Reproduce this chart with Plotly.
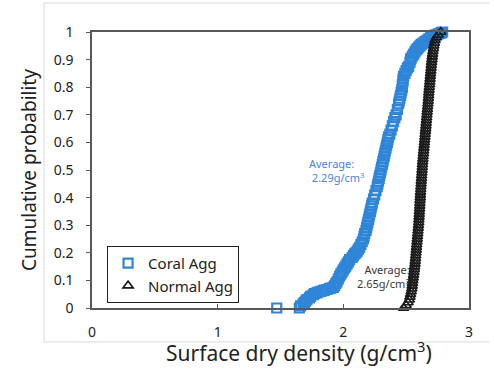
import plotly.graph_objects as go

# Coral aggregate: surface dry density (g/cm3) and cumulative probability
coral_x = [1.47, 1.65, 1.66, 1.68, 1.69, 1.70, 1.71, 1.73, 1.74, 1.76, 1.77, 1.79, 1.80, 1.82,
           1.84, 1.85, 1.87, 1.89, 1.90, 1.92, 1.93, 1.94, 1.95, 1.96, 1.97, 1.98, 1.99, 2.00,
           2.01, 2.02, 2.03, 2.04, 2.05, 2.07, 2.08, 2.09, 2.10, 2.11, 2.12, 2.13, 2.14, 2.15,
           2.16, 2.165, 2.17, 2.18, 2.185, 2.19, 2.195, 2.20, 2.205, 2.21, 2.215, 2.22, 2.225,
           2.23, 2.24, 2.25, 2.26, 2.27, 2.275, 2.28, 2.285, 2.29, 2.295, 2.30, 2.305, 2.31,
           2.315, 2.32, 2.325, 2.33, 2.335, 2.34, 2.345, 2.35, 2.355, 2.36, 2.37, 2.38, 2.39,
           2.40, 2.41, 2.42, 2.43, 2.44, 2.445, 2.45, 2.455, 2.46, 2.465, 2.47, 2.47, 2.475,
           2.475, 2.48, 2.49, 2.50, 2.51, 2.52, 2.53, 2.535, 2.54, 2.55, 2.56, 2.57, 2.58, 2.59,
           2.60, 2.61, 2.62, 2.635, 2.65, 2.665, 2.68, 2.695, 2.71, 2.725, 2.74, 2.755, 2.77,
           2.78, 2.79]
coral_y = [0.0, 0.0, 0.008, 0.015, 0.02, 0.025, 0.03, 0.037, 0.042, 0.048, 0.052, 0.055, 0.058,
           0.06, 0.063, 0.065, 0.067, 0.07, 0.072, 0.075, 0.08, 0.088, 0.095, 0.105, 0.115, 0.123,
           0.13, 0.138, 0.145, 0.152, 0.16, 0.167, 0.175, 0.183, 0.19, 0.196, 0.2, 0.206, 0.213,
           0.22, 0.23, 0.24, 0.25, 0.26, 0.27, 0.28, 0.29, 0.30, 0.31, 0.32, 0.33, 0.34, 0.35,
           0.36, 0.37, 0.38, 0.395, 0.41, 0.425, 0.44, 0.45, 0.46, 0.47, 0.48, 0.49, 0.50, 0.51,
           0.52, 0.53, 0.54, 0.55, 0.56, 0.57, 0.58, 0.59, 0.60, 0.61, 0.62, 0.63, 0.645, 0.66,
           0.675, 0.69, 0.70, 0.72, 0.74, 0.75, 0.76, 0.77, 0.78, 0.79, 0.80, 0.81, 0.82, 0.83,
           0.84, 0.85, 0.86, 0.87, 0.875, 0.89, 0.90, 0.905, 0.913, 0.92, 0.928, 0.935, 0.94,
           0.945, 0.95, 0.955, 0.96, 0.965, 0.97, 0.975, 0.98, 0.985, 0.988, 0.99, 0.993, 0.995,
           0.998, 1.0]

# Normal aggregate
normal_x = [2.48, 2.50, 2.515, 2.525, 2.53, 2.535, 2.54, 2.545, 2.548, 2.55, 2.553, 2.556,
            2.559, 2.562, 2.565, 2.567, 2.57, 2.572, 2.574, 2.576, 2.578, 2.58, 2.582, 2.584,
            2.586, 2.588, 2.59, 2.592, 2.594, 2.596, 2.598, 2.60, 2.601, 2.603, 2.604, 2.605,
            2.607, 2.608, 2.609, 2.61, 2.612, 2.613, 2.614, 2.616, 2.617, 2.619, 2.62, 2.622,
            2.623, 2.625, 2.626, 2.628, 2.629, 2.631, 2.633, 2.635, 2.637, 2.639, 2.641, 2.643,
            2.645, 2.647, 2.649, 2.651, 2.653, 2.655, 2.657, 2.659, 2.661, 2.663, 2.665, 2.667,
            2.669, 2.671, 2.673, 2.675, 2.677, 2.679, 2.68, 2.682, 2.684, 2.686, 2.688, 2.69,
            2.692, 2.694, 2.696, 2.698, 2.70, 2.702, 2.705, 2.707, 2.71, 2.713, 2.717, 2.72,
            2.725, 2.73, 2.74, 2.755, 2.775]
normal_y = [0.0, 0.01, 0.02, 0.03, 0.04, 0.05, 0.06, 0.07, 0.08, 0.09, 0.10, 0.11, 0.12, 0.13,
            0.14, 0.15, 0.16, 0.17, 0.18, 0.19, 0.20, 0.21, 0.22, 0.23, 0.24, 0.25, 0.26, 0.27,
            0.28, 0.29, 0.30, 0.31, 0.32, 0.33, 0.34, 0.35, 0.36, 0.37, 0.38, 0.39, 0.40, 0.41,
            0.42, 0.43, 0.44, 0.45, 0.46, 0.47, 0.48, 0.49, 0.50, 0.51, 0.52, 0.53, 0.54, 0.55,
            0.56, 0.57, 0.58, 0.59, 0.60, 0.61, 0.62, 0.63, 0.64, 0.65, 0.66, 0.67, 0.68, 0.69,
            0.70, 0.71, 0.72, 0.73, 0.74, 0.75, 0.76, 0.77, 0.78, 0.79, 0.80, 0.81, 0.82, 0.83,
            0.84, 0.85, 0.86, 0.87, 0.88, 0.89, 0.90, 0.91, 0.92, 0.93, 0.94, 0.95, 0.96, 0.97,
            0.98, 0.99, 1.0]

x_ticks = [0, 1, 2, 3]
y_ticks = [0, 0.1, 0.2, 0.3, 0.4, 0.5, 0.6, 0.7, 0.8, 0.9, 1]
y_tick_text = ["0", "0.1", "0.2", "0.3", "0.4", "0.5", "0.6", "0.7", "0.8", "0.9", "1"]

BLUE = "#2f86d8"
FONT = "Noto Sans"

fig = go.Figure()
fig.add_trace(go.Scatter(
    x=coral_x, y=coral_y, mode="markers", name="Coral Agg",
    marker=dict(symbol="square-open", size=9, color=BLUE, line=dict(width=2.2, color=BLUE)),
    cliponaxis=False,
))
fig.add_trace(go.Scatter(
    x=normal_x, y=normal_y, mode="markers", name="Normal Agg",
    marker=dict(symbol="triangle-up-open", size=9, color="#1a1a1a", line=dict(width=1.6, color="#1a1a1a")),
    cliponaxis=False,
))

fig.add_annotation(x=1.71, y=0.5, xref="x", yref="y", xanchor="left", showarrow=False,
                   text="Average:<br> 2.29g/cm<sup>3</sup>", align="left",
                   font=dict(family=FONT, size=11, color="#4a86d8"))
fig.add_annotation(x=2.55, y=0.115, xref="x", yref="y", xanchor="right", showarrow=False,
                   text="Average:<br>2.65g/cm<sup>3</sup>", align="right",
                   font=dict(family=FONT, size=11, color="#383838"))

# x-axis title (placed slightly right of centre, as in the source)
fig.add_annotation(x=0.549, y=-0.159, xref="paper", yref="paper", xanchor="center", yanchor="middle",
                   showarrow=False, text="Surface dry density (g/cm<sup>3</sup>)",
                   font=dict(family=FONT, size=21, color="#222222"))

# light outer chart frame
frame = dict(type="line", xref="paper", yref="paper", line=dict(color="#d9d9d9", width=1))
fig.add_shape(**frame, x0=-0.1273, x1=-0.1273, y0=-0.123, y1=1.105)
fig.add_shape(**frame, x0=-0.1273, x1=1.053, y0=-0.123, y1=-0.123)
fig.add_shape(**frame, x0=-0.1273, x1=1.053, y0=1.105, y1=1.105)

fig.update_layout(
    width=494, height=369,
    margin=dict(l=92, r=25, t=32, b=61),
    paper_bgcolor="white", plot_bgcolor="white",
    font=dict(family=FONT, size=14, color="#222222"),
    showlegend=True,
    legend=dict(x=0.04, y=0.225, xanchor="left", yanchor="top",
                bgcolor="white", bordercolor="#222222", borderwidth=1,
                font=dict(family=FONT, size=15, color="#222222"),
                itemwidth=30, tracegroupgap=0),
    xaxis=dict(range=[0, 3], tickvals=x_ticks, ticktext=[str(v) for v in x_ticks],
               ticks="inside", ticklen=4, tickcolor="#595959",
               showline=True, linecolor="#595959", linewidth=1.5, mirror=True,
               showgrid=False, zeroline=False, ticklabelstandoff=10),
    yaxis=dict(range=[0, 1], tickvals=y_ticks, ticktext=y_tick_text,
               ticks="outside", ticklen=4, tickcolor="#595959",
               showline=True, linecolor="#595959", linewidth=1.5, mirror=True,
               showgrid=False, zeroline=False, ticklabelstandoff=10,
               title=dict(text="Cumulative probability", standoff=12,
                          font=dict(family=FONT, size=19, color="#222222"))),
)

fig.write_html("out.html")
